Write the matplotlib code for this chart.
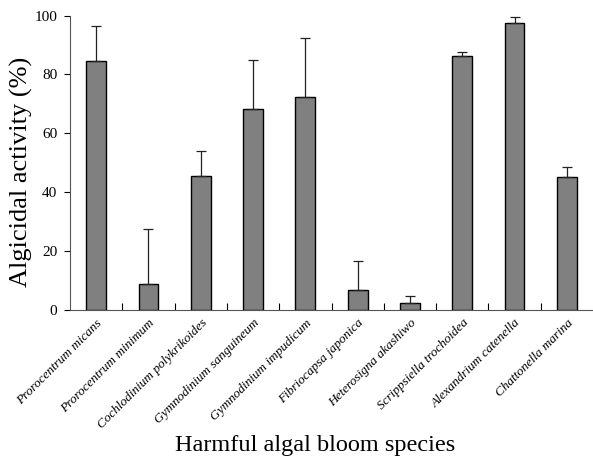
import matplotlib
matplotlib.use('Agg')
import matplotlib.pyplot as plt
import numpy as np

species = ['Prorocentrum micans', 'Prorocentrum minimum', 'Cochlodinium polykrikoides',
           'Gymnodinium sanguineum', 'Gymnodinium impudicum', 'Fibriocapsa japonica',
           'Heterosigna akashiwo', 'Scrippsiella trochoidea', 'Alexandrium catenella',
           'Chattonella marina']
activity = [84.7, 8.7, 45.5, 68.3, 72.2, 6.9, 2.5, 86.4, 97.3, 45.3]
error = [11.9, 18.7, 8.6, 16.7, 20.3, 9.6, 2.3, 1.1, 2.2, 3.1]

plt.rcParams['font.family'] = ['Liberation Serif', 'DejaVu Serif']

fig = plt.figure(figsize=(5.93, 4.66), dpi=100)
ax = fig.add_axes([70/593, 1 - 310/466, 523/593, 294.5/466])

x = np.arange(len(species))
ax.bar(x, activity, width=0.38, color='#808080', edgecolor='black', linewidth=1.0,
       yerr=[np.zeros(len(error)), error], error_kw=dict(ecolor='#222222', elinewidth=0.9,
       capsize=3.5, capthick=0.9))

ax.set_xlim(-0.5, len(species) - 0.5)
ax.set_ylim(0, 100)
ax.set_yticks([0, 20, 40, 60, 80, 100])
ax.tick_params(axis='y', direction='out', length=4, width=0.8, labelsize=11, pad=5)

# category boundary ticks pointing up
ax.set_xticks(np.arange(0.5, len(species) - 0.5), minor=False)
ax.set_xticklabels([])
ax.tick_params(axis='x', direction='in', length=5, width=0.8)
ax.set_xticks(x, minor=True)
ax.set_xticklabels(species, minor=True, rotation=45, ha='right', rotation_mode='anchor',
                   fontsize=9.5, style='italic')
ax.tick_params(axis='x', which='minor', length=0, pad=5)

for s in ['top', 'right']:
    ax.spines[s].set_visible(False)
ax.spines['left'].set_color('#555555')
ax.spines['bottom'].set_color('#555555')

ax.set_ylabel('Algicidal activity (%)', fontsize=19)
ax.yaxis.set_label_coords(-0.071, 0.47)
ax.set_xlabel('Harmful algal bloom species', fontsize=17.5)
ax.xaxis.set_label_coords(0.468, -0.425)

fig.savefig('out.png', dpi=100)
